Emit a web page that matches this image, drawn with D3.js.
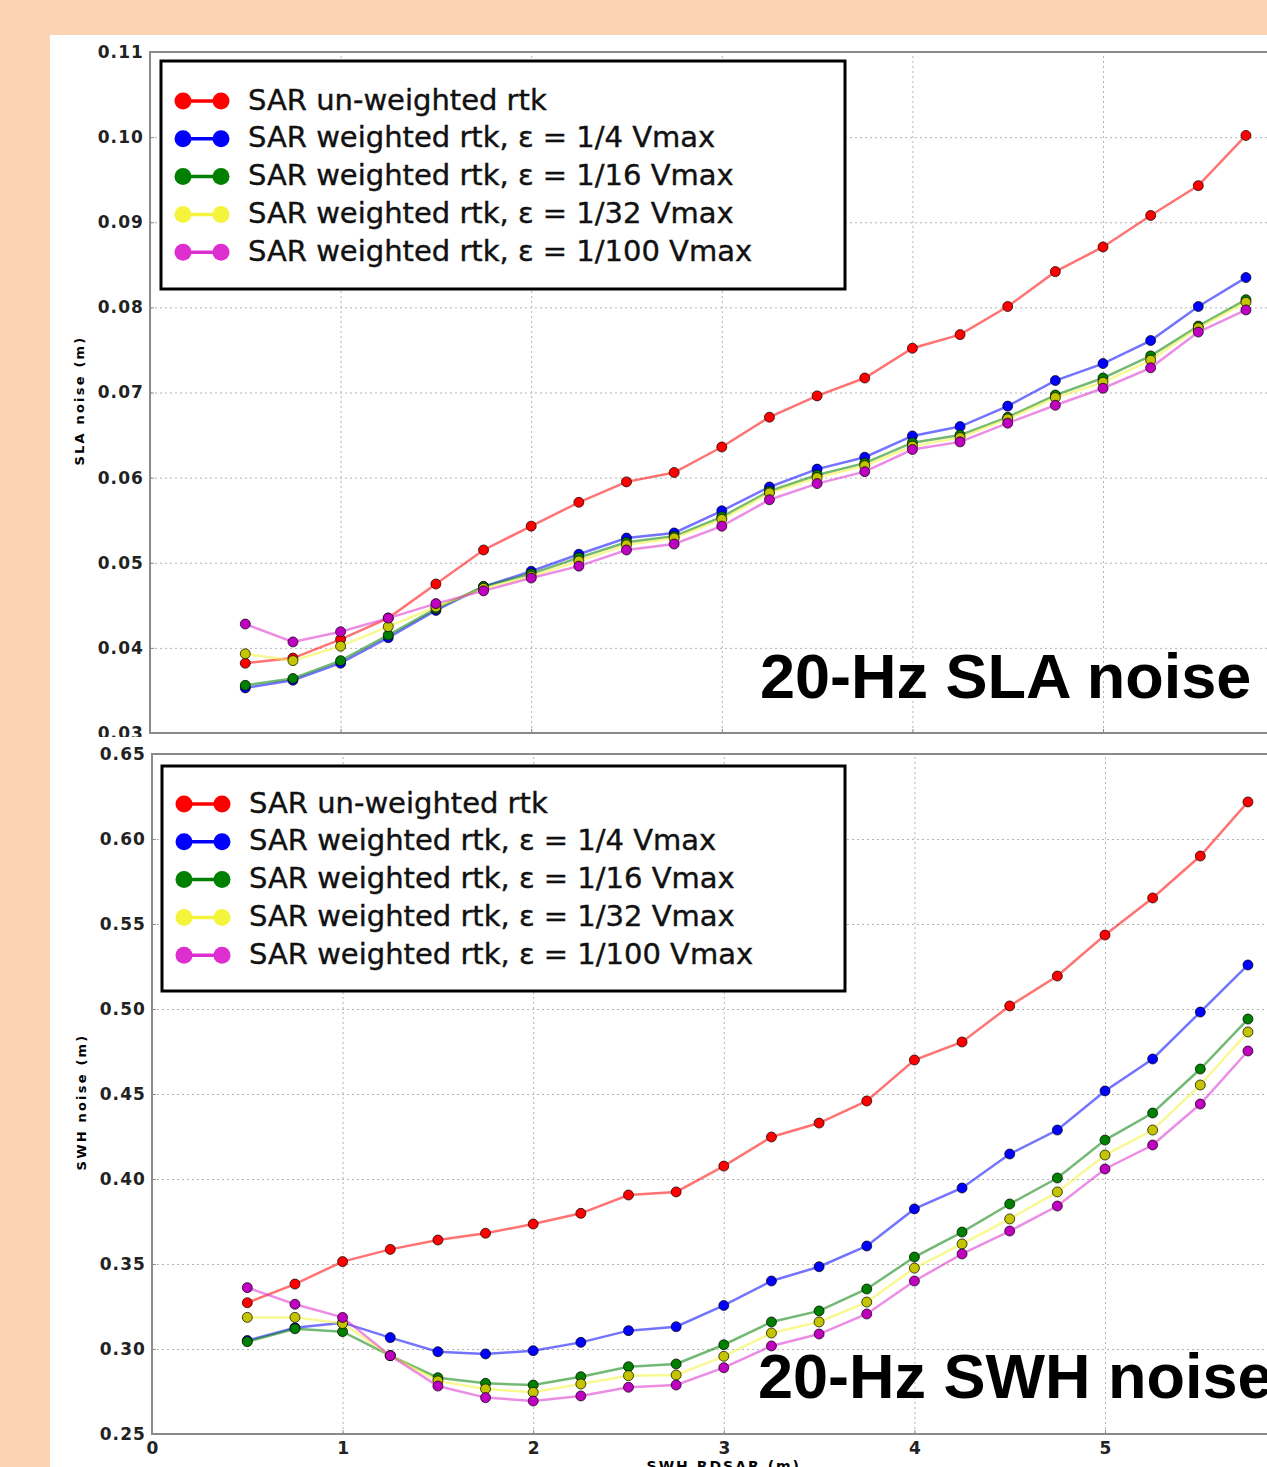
<!DOCTYPE html>
<html lang="en">
  <head>
    <meta charset="UTF-8" />
    <title>SAR SLA / SWH noise</title>
    <script src="https://cdn.jsdelivr.net/npm/d3@7/dist/d3.min.js"></script>
    <style>
      body {
        margin: 0;
        background-color: #fcd4b4;
        overflow: hidden;
      }
      svg {
        display: block;
      }
    </style>
  </head>
  <body>
    <div id="noise_plots"></div>

    <script>
      // SWH bins (m)
      const swhBins = [
        0.5, 0.75, 1.0, 1.25, 1.5, 1.75, 2.0, 2.25, 2.5, 2.75, 3.0, 3.25, 3.5,
        3.75, 4.0, 4.25, 4.5, 4.75, 5.0, 5.25, 5.5, 5.75,
      ];

      const seriesLabels = [
        "SAR un-weighted rtk",
        "SAR weighted rtk, ε = 1/4 Vmax",
        "SAR weighted rtk, ε = 1/16 Vmax",
        "SAR weighted rtk, ε = 1/32 Vmax",
        "SAR weighted rtk, ε = 1/100 Vmax",
      ];

      // 20-Hz SLA noise (m)
      const slaUnweighted = [0.0382, 0.0388, 0.041, 0.0435, 0.0475, 0.0515, 0.0543, 0.0571, 0.0595, 0.0606, 0.0636, 0.0671, 0.0696, 0.0717, 0.0752, 0.0768, 0.0801, 0.0842, 0.0871, 0.0908, 0.0943, 0.1002];
      const slaQuarter = [0.0353, 0.0362, 0.0382, 0.0412, 0.0444, 0.0472, 0.049, 0.051, 0.0529, 0.0535, 0.0561, 0.0589, 0.061, 0.0624, 0.0649, 0.066, 0.0684, 0.0714, 0.0734, 0.0761, 0.0801, 0.0835];
      const slaSixteenth = [0.0356, 0.0364, 0.0385, 0.0415, 0.0446, 0.0472, 0.0487, 0.0506, 0.0524, 0.0531, 0.0554, 0.0584, 0.0603, 0.0617, 0.0641, 0.065, 0.0671, 0.0697, 0.0717, 0.0743, 0.0778, 0.0809];
      const slaThirtySecond = [0.0393, 0.0385, 0.0402, 0.0425, 0.0448, 0.047, 0.0484, 0.0502, 0.0521, 0.0529, 0.0551, 0.0582, 0.06, 0.0614, 0.0637, 0.0647, 0.0669, 0.0694, 0.0712, 0.0738, 0.0776, 0.0806];
      const slaHundredth = [0.0428, 0.0407, 0.0419, 0.0435, 0.0452, 0.0467, 0.0482, 0.0496, 0.0515, 0.0522, 0.0543, 0.0574, 0.0593, 0.0607, 0.0633, 0.0642, 0.0664, 0.0685, 0.0705, 0.0729, 0.0771, 0.0797];

      // 20-Hz SWH noise (m)
      const swhUnweighted = [0.3272, 0.3382, 0.3514, 0.3586, 0.3641, 0.3681, 0.3735, 0.3798, 0.3906, 0.3924, 0.4076, 0.4247, 0.4329, 0.4459, 0.47, 0.4806, 0.5018, 0.5194, 0.5435, 0.5653, 0.59, 0.6218];
      const swhQuarter = [0.305, 0.3125, 0.3155, 0.3067, 0.2984, 0.2971, 0.299, 0.3039, 0.3108, 0.3131, 0.3256, 0.34, 0.3484, 0.3606, 0.3824, 0.3947, 0.4147, 0.4288, 0.4518, 0.4706, 0.4982, 0.5259];
      const swhSixteenth = [0.3043, 0.3119, 0.3102, 0.2961, 0.2831, 0.2798, 0.2788, 0.2837, 0.2896, 0.2912, 0.3025, 0.3159, 0.3224, 0.3353, 0.3541, 0.3688, 0.3853, 0.4006, 0.4229, 0.4388, 0.4647, 0.4941];
      const swhThirtySecond = [0.3186, 0.3186, 0.315, 0.2961, 0.2812, 0.2765, 0.2745, 0.2794, 0.2843, 0.2847, 0.2957, 0.3094, 0.3159, 0.3276, 0.3476, 0.3618, 0.3765, 0.3924, 0.4141, 0.4288, 0.4553, 0.4865];
      const swhHundredth = [0.3361, 0.3263, 0.3186, 0.2961, 0.2782, 0.2714, 0.2694, 0.2724, 0.2775, 0.2788, 0.289, 0.3018, 0.3088, 0.3206, 0.34, 0.3559, 0.3694, 0.3841, 0.4059, 0.42, 0.4441, 0.4753];

      // tick labels
      const xTicks = [0, 1, 2, 3, 4, 5, 6];
      const slaTicks = [0.03, 0.04, 0.05, 0.06, 0.07, 0.08, 0.09, 0.1, 0.11];
      const swhTicks = [0.25, 0.3, 0.35, 0.4, 0.45, 0.5, 0.55, 0.6, 0.65];

      // styles
      const legendColors = ["#ff0000", "#0000ff", "#008000", "#f4f43c", "#dd2fd0"];
      const markerColors = ["#ff0000", "#0000ff", "#008000", "#c4c400", "#c000c0"];
      const tickFont = '"DejaVu Sans", sans-serif';

      const W = 1267,
        H = 1467;

      const svg = d3
        .select("#noise_plots")
        .append("svg")
        .attr("width", W)
        .attr("height", H);

      // white figure panel
      svg.append("rect").attr("x", 50).attr("y", 35).attr("width", W - 50).attr("height", H - 35).attr("fill", "#ffffff");

      const unit = 190.6; // px per metre of SWH

      drawPanel({
        left: 150,
        top: 52,
        bottom: 733,
        yDomain: [0.03, 0.11],
        yTicks: slaTicks,
        series: [slaUnweighted, slaQuarter, slaSixteenth, slaThirtySecond, slaHundredth],
        legendBox: [161, 61, 684, 228],
        legendRowY: 99,
        title: "20-Hz SLA noise",
        titleX: 760,
        titleY: 698,
        yLabel: "SLA noise (m)",
        yLabelX: 84,
        xLabels: false,
      });

      // bottom figure covers the lower half of the upper one
      svg.append("rect").attr("x", 50).attr("y", 737).attr("width", W - 50).attr("height", H - 737).attr("fill", "#ffffff");

      drawPanel({
        left: 152,
        top: 754,
        bottom: 1434,
        yDomain: [0.25, 0.65],
        yTicks: swhTicks,
        series: [swhUnweighted, swhQuarter, swhSixteenth, swhThirtySecond, swhHundredth],
        legendBox: [162, 766, 683, 225],
        legendRowY: 802,
        title: "20-Hz SWH noise",
        titleX: 758,
        titleY: 1398,
        yLabel: "SWH noise (m)",
        yLabelX: 86,
        xLabels: true,
      });

      function drawPanel(p) {
        const x = d3.scaleLinear().domain([0, 6]).range([p.left, p.left + 6 * unit]);
        const y = d3.scaleLinear().domain(p.yDomain).range([p.bottom, p.top]);
        const g = svg.append("g");

        // dotted grid
        g.append("g")
          .attr("transform", `translate(0,${p.bottom})`)
          .call(d3.axisBottom(x).tickValues(xTicks).tickSize(-(p.bottom - p.top)).tickFormat(""))
          .call((s) => s.select(".domain").remove())
          .selectAll("line")
          .attr("stroke", "#b4b4b4")
          .attr("stroke-dasharray", "2,3");
        g.append("g")
          .attr("transform", `translate(${p.left},0)`)
          .call(d3.axisLeft(y).tickValues(p.yTicks).tickSize(-(W - p.left)).tickFormat(""))
          .call((s) => s.select(".domain").remove())
          .selectAll("line")
          .attr("stroke", "#b4b4b4")
          .attr("stroke-dasharray", "2,3");

        // frame
        g.append("path")
          .attr("d", `M${W + 5},${p.top}H${p.left}V${p.bottom}H${W + 5}`)
          .attr("fill", "none")
          .attr("stroke", "#8a8a8a")
          .attr("stroke-width", 2);

        // y axis
        const yAxis = g
          .append("g")
          .attr("transform", `translate(${p.left},0)`)
          .call(d3.axisLeft(y).tickValues(p.yTicks).tickSizeInner(-4).tickSizeOuter(0).tickPadding(6).tickFormat(d3.format(".2f")));
        yAxis.select(".domain").remove();
        yAxis.selectAll("line").attr("stroke", "#8a8a8a");
        yAxis
          .selectAll("text")
          .attr("fill", "#222")
          .style("font-family", tickFont)
          .style("font-weight", "bold")
          .style("font-size", "17px")
          .style("letter-spacing", "1.1px");

        // x axis
        const xAxis = g
          .append("g")
          .attr("transform", `translate(0,${p.bottom})`)
          .call(d3.axisBottom(x).tickValues(xTicks).tickSizeInner(-4).tickSizeOuter(0).tickPadding(8).tickFormat(p.xLabels ? d3.format("d") : ""));
        xAxis.select(".domain").remove();
        xAxis.selectAll("line").attr("stroke", "#8a8a8a");
        xAxis
          .selectAll("text")
          .attr("fill", "#222")
          .style("font-family", tickFont)
          .style("font-weight", "bold")
          .style("font-size", "17px");

        // y label
        g.append("text")
          .attr("transform", `translate(${p.yLabelX},${(p.top + p.bottom) / 2 + 8}) rotate(-90)`)
          .attr("text-anchor", "middle")
          .style("font-family", tickFont)
          .style("font-weight", "bold")
          .style("font-size", "13px")
          .style("letter-spacing", "2.2px")
          .text(p.yLabel);

        if (p.xLabels) {
          g.append("text")
            .attr("x", x(3))
            .attr("y", p.bottom + 37)
            .attr("text-anchor", "middle")
            .style("font-family", tickFont)
            .style("font-weight", "bold")
            .style("font-size", "14px")
            .style("letter-spacing", "2px")
            .text("SWH RDSAR (m)");
        }

        // big title
        g.append("text")
          .attr("x", p.titleX)
          .attr("y", p.titleY)
          .style("font-family", '"Liberation Sans", Arial, sans-serif')
          .style("font-weight", "bold")
          .style("font-size", "63px")
          .text(p.title);

        // series
        const line = d3
          .line()
          .x((d) => x(d[0]))
          .y((d) => y(d[1]));

        p.series.forEach((vals, i) => {
          const pts = swhBins.map((b, k) => [b, vals[k]]);
          g.append("path")
            .datum(pts)
            .attr("fill", "none")
            .attr("stroke", legendColors[i])
            .attr("stroke-opacity", 0.55)
            .attr("stroke-width", 2.5)
            .attr("d", line);
          g.selectAll(null)
            .data(pts)
            .enter()
            .append("circle")
            .attr("cx", (d) => x(d[0]))
            .attr("cy", (d) => y(d[1]))
            .attr("r", 5)
            .attr("fill", markerColors[i])
            .attr("stroke", "#000")
            .attr("stroke-opacity", 0.7)
            .attr("stroke-width", 1);
        });

        // legend
        const [lx, ly, lw, lh] = p.legendBox;
        const legend = g.append("g");
        legend
          .append("rect")
          .attr("x", lx)
          .attr("y", ly)
          .attr("width", lw)
          .attr("height", lh)
          .attr("fill", "#fff")
          .attr("stroke", "#000")
          .attr("stroke-width", 3);
        seriesLabels.forEach((label, i) => {
          const cy = p.legendRowY + i * 37.8;
          const row = legend.append("g");
          row.append("line")
            .attr("x1", lx + 22)
            .attr("x2", lx + 60)
            .attr("y1", cy + 2)
            .attr("y2", cy + 2)
            .attr("stroke", legendColors[i])
            .attr("stroke-width", 3.5);
          [lx + 22, lx + 60].forEach((cx) =>
            row.append("circle").attr("cx", cx).attr("cy", cy + 2).attr("r", 8.5).attr("fill", legendColors[i])
          );
          row.append("text")
            .attr("x", lx + 87)
            .attr("y", cy + 10.5)
            .style("font-family", tickFont)
            .style("font-size", "29px")
            .attr("fill", "#111")
            .attr("stroke", "#111")
            .attr("stroke-width", 0.4)
            .text(label);
        });
      }
    </script>
  </body>
</html>
